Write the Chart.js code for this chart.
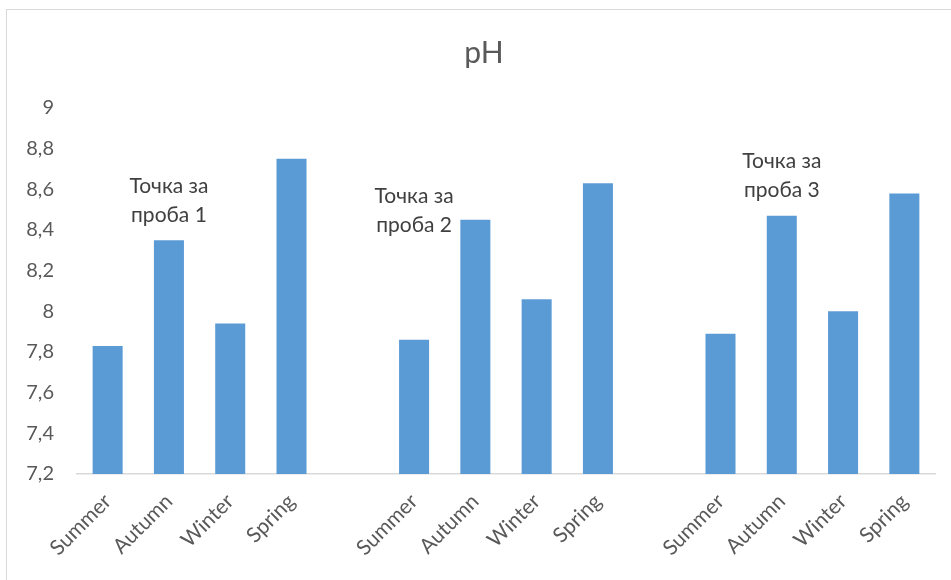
<!DOCTYPE html>
<html>
<head>
<meta charset="utf-8">
<title>pH</title>
<script src="https://cdn.jsdelivr.net/npm/chart.js@4"></script>
<style>
  html, body { margin: 0; padding: 0; background: #ffffff; overflow: hidden; }
  #wrap { position: relative; width: 951px; height: 580px; }
  #frame { position: absolute; left: 6px; top: 9px; width: 1000px; height: 700px;
           border-left: 1.5px solid #d9d9d9; border-top: 1.5px solid #d9d9d9; box-sizing: border-box; }
  canvas { position: absolute; left: 0; top: 0; }
</style>
</head>
<body>
<div id="wrap">
  <div id="frame"></div>
  <canvas id="c" width="951" height="580"></canvas>
</div>
<script>
// Seasons measured at each sampling point
const seasons = ['Summer', 'Autumn', 'Winter', 'Spring'];

// pH per season for each sampling point
const point1 = [7.83, 8.35, 7.94, 8.75];
const point2 = [7.86, 8.45, 8.06, 8.63];
const point3 = [7.89, 8.47, 8.00, 8.58];

// Labels written above each group
const noteLines = [
  ['Точка за', 'проба 1'],
  ['Точка за', 'проба 2'],
  ['Точка за', 'проба 3']
];
// Category slot and pH level where each group label is centred
const noteSlot = [1, 5, 11];
const noteLevel = [8.545, 8.495, 8.668];

// Chart heading
const heading = 'pH';

// Y axis range and step
const yMin = 7.2;
const yMax = 9;
const yStep = 0.2;

// Build the category axis: three groups separated by an empty slot
const groups = [point1, point2, point3];
const labels = [];
const values = [];
groups.forEach((g, i) => {
  if (i > 0) { labels.push(''); values.push(null); }
  seasons.forEach((s, j) => { labels.push(s); values.push(g[j]); });
});

const FONT = "Lato, 'Noto Sans', sans-serif";
const TEXT = '#595959';

// Heading and group notes drawn on the canvas
const textPlugin = {
  id: 'chartTexts',
  afterDatasetsDraw(chart) {
    const { ctx, scales } = chart;
    ctx.save();
    ctx.textAlign = 'center';
    ctx.textBaseline = 'middle';

    ctx.font = '30px ' + FONT;
    ctx.fillStyle = TEXT;
    ctx.fillText(heading, 484, 53);

    ctx.font = '21px ' + FONT;
    ctx.fillStyle = '#404040';
    const lh = 29;
    noteLines.forEach((lines, i) => {
      const x = scales.x.getPixelForValue(noteSlot[i]);
      const yc = scales.y.getPixelForValue(noteLevel[i]);
      lines.forEach((t, k) => {
        ctx.fillText(t, x, yc + (k - (lines.length - 1) / 2) * lh);
      });
    });
    ctx.restore();
  }
};

const fmt = v => {
  const r = Math.round(v * 10) / 10;
  return String(r).replace('.', ',');
};

new Chart(document.getElementById('c'), {
  type: 'bar',
  data: {
    labels: labels,
    datasets: [{
      label: heading,
      data: values,
      backgroundColor: '#5b9bd5',
      borderWidth: 0,
      categoryPercentage: 1,
      barPercentage: 0.49
    }]
  },
  options: {
    responsive: false,
    animation: false,
    layout: { padding: { left: 0, right: 16, top: 108, bottom: 0 } },
    plugins: {
      legend: { display: false },
      tooltip: { enabled: false },
      title: { display: false }
    },
    scales: {
      x: {
        grid: { display: false, drawTicks: false },
        border: { display: true, color: '#d9d9d9', width: 1.5 },
        ticks: {
          color: TEXT,
          font: { family: FONT, size: 21 },
          minRotation: 45,
          maxRotation: 45,
          autoSkip: false,
          padding: 15
        },
        afterFit(scale) { scale.height = 106; }
      },
      y: {
        min: yMin,
        max: yMax,
        grid: { display: false, drawTicks: false },
        border: { display: false },
        ticks: {
          stepSize: yStep,
          color: TEXT,
          font: { family: FONT, size: 20 },
          padding: 23,
          callback: v => fmt(v)
        },
        afterFit(scale) { scale.width = 77; }
      }
    }
  },
  plugins: [textPlugin]
});
</script>
</body>
</html>
